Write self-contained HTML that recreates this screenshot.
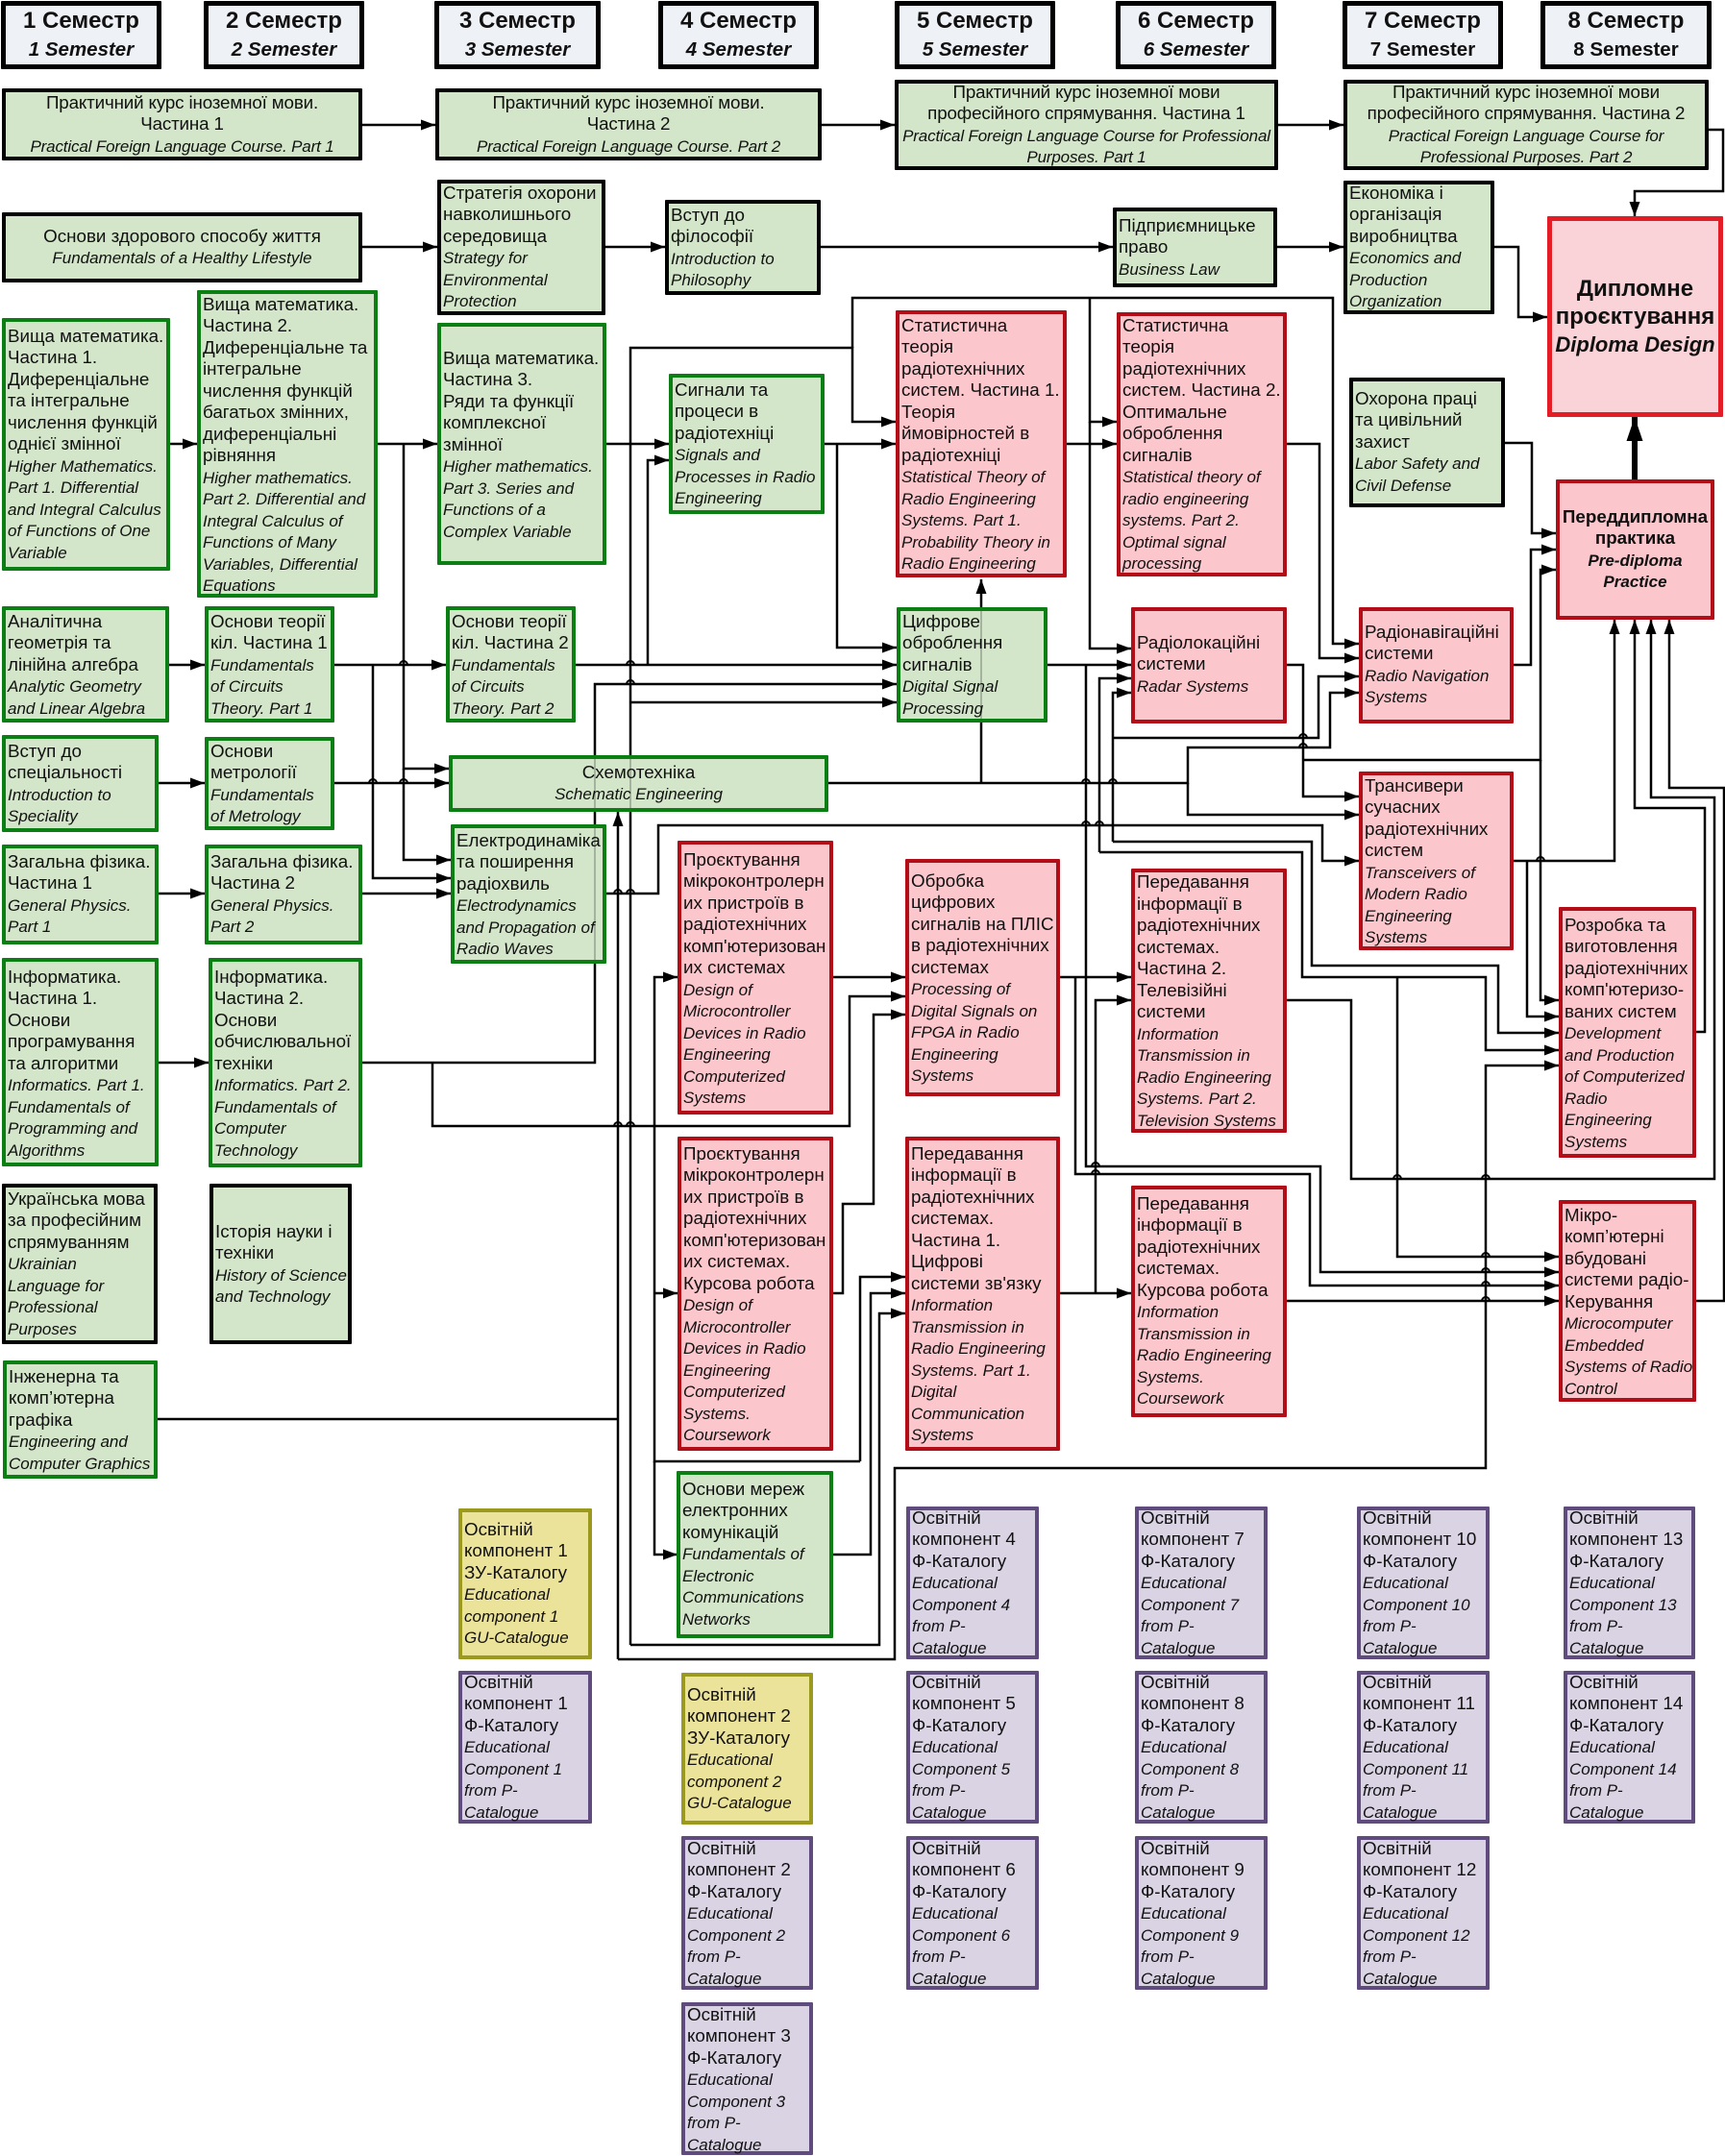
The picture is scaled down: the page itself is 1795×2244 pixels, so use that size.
<!DOCTYPE html>
<html lang="uk"><head><meta charset="utf-8"><title>Diagram</title>
<style>
html,body{margin:0;padding:0;background:#fff}
#w{position:relative;width:1795px;height:2244px;overflow:hidden;background:#fff;font-family:"Liberation Sans","DejaVu Sans",sans-serif;color:#111}
svg{position:absolute;left:0;top:0}
.b{position:absolute;box-sizing:border-box;border:4px solid #000;border-radius:1px}
.b p{position:absolute;left:2px;top:0;margin:.7px 0 0;font-size:18.8px;line-height:22.5px;white-space:nowrap}
.b p.c{left:0;right:0;text-align:center}
.b i{font-size:17px;line-height:1}
.n,.n i{letter-spacing:-.15px}
.g{border-color:#0b7f14;background:#d3e6c9}
.k{border-color:#000;background:#d3e6c9;border-width:4.5px}
.r{border-color:#b30d18;background:#fbc6cc;border-width:4.5px}
.d{border-color:#5f4b7d;background:#dad3e4}
.y{border-color:#9c9a1e;background:#ece39b}
.s{border-color:#000;background:#eef1f6;border-width:5px}
.s p{margin:0;font-size:24px;line-height:29px;font-weight:bold}
.s i{font-size:20.5px}
.s em{font-style:normal;font-size:20.5px}
.D{border-color:#e31c25;background:#fad3d8;border-width:5px}
.D p{margin:0;font-size:24px;line-height:29px;font-weight:bold}
.D i{font-size:22px}
.P{border-color:#b30d18;background:#fbc6cc;border-width:4.5px}
.P p{font-weight:bold}
</style></head><body><div id="w">
<svg width="1795" height="2244" viewBox="0 0 1795 2244">
<defs>
<marker id="a" markerUnits="userSpaceOnUse" markerWidth="16" markerHeight="12" refX="15" refY="6" orient="auto"><path d="M0 0.5L15 6L0 11.5z" fill="#000"/></marker>
<marker id="t" markerUnits="userSpaceOnUse" markerWidth="26" markerHeight="18" refX="25" refY="9" orient="auto"><path d="M0 0.5L25 9L0 17.5z" fill="#000"/></marker>
</defs>
<g fill="none" stroke="#000" stroke-width="2.5" marker-end="url(#a)">
<path d="M377 130H453"/><path d="M855 130H931"/><path d="M1330 130H1398"/><path d="M1778 135H1793V199H1701V225"/>
<path d="M377 257H455"/><path d="M630 257H692"/><path d="M854 257H1158"/><path d="M1329 257H1398"/><path d="M1555 257H1580V330H1610"/>
<path d="M1566 461H1594V555H1619"/>
<path d="M177 462H205"/><path d="M393 462H455"/><path d="M420 462V800H467"/><path d="M420 800V895H469"/><path d="M631 462H696"/><path d="M674 692V479H696"/><path d="M858 462H932"/><path d="M871 462V674H933"/>
<path d="M656 1712V362H887V439H932"/><path d="M887 362V310H1387V670H1414"/><path d="M1134 310V439H1162"/><path d="M1134 439V675H1177"/><path d="M1110 462H1162"/><path d="M1339 462H1373V685H1414"/>
<path d="M656 1712H915V1367H942"/><path d="M656 731H933"/>
<path d="M348 692H464"/><path d="M388 692V914H469"/><path d="M599 692H933"/>
<path d="M165 815H213"/><path d="M176 692H213"/><path d="M348 815H467"/><path d="M377 930H469"/><path d="M165 930H213"/><path d="M165 1106H217"/>
<path d="M377 1106H619V712H933"/><path d="M450 1106V1172H884V1037H942"/>
<path d="M631 930H685V859H1376V896H1414"/>
<path d="M862 815H1236V778H1384V721H1414"/><path d="M1236 815V848H1414"/><path d="M1021 815V603"/>
<path d="M1090 692H1177"/><path d="M1130 692V1214H1374V1324H1622"/>
<path d="M1103 1017H1177"/><path d="M1119 1017V1222H1363V1338H1622"/>
<path d="M1144 887V706H1177"/><path d="M1144 887H1355V1017H1546V1093H1622"/><path d="M1454 1017V1308H1622"/>
<path d="M1158 876V721H1177"/><path d="M1158 876H1365V1005H1559V1075H1622"/><path d="M1158 768H1372V704H1414"/>
<path d="M1339 692H1356V829H1414"/><path d="M1356 791H1603V593H1619"/><path d="M1603 791V1041H1622"/>
<path d="M1575 692H1593V572H1619"/>
<path d="M1575 896H1680V645"/><path d="M1589 896V1058H1622"/>
<path d="M1765 1074H1774V841H1701V645"/><path d="M1339 1041H1406V1227H1784V830H1718V645"/><path d="M1765 1354H1794V820H1737V645"/>
<path d="M1339 1354H1622"/>
<path d="M1103 1346H1177"/><path d="M1140 1346V1041H1177"/>
<path d="M867 1017H942"/>
<path d="M895 1521H681V1017H705"/><path d="M681 1346H705"/><path d="M681 1521V1618H705"/><path d="M895 1521V1329H942"/>
<path d="M866 1618H906V1346H942"/>
<path d="M867 1346H877V1253H909V1056H942"/>
<path d="M643 1727V845"/><path d="M643 1727H931V1528H1546V1109H1622"/>
</g>
<path d="M164 1477H643" fill="none" stroke="#000" stroke-width="2.5"/>
<path d="M1701 499V434" fill="none" stroke="#000" stroke-width="6" marker-end="url(#t)"/>
<g fill="none" stroke="#000" stroke-width="2">
<path d="M416 692a4 4 0 0 1 8 0M652 692a4 4 0 0 1 8 0M652 712a4 4 0 0 1 8 0M384 815a4 4 0 0 1 8 0M416 815a4 4 0 0 1 8 0M1126 815a4 4 0 0 1 8 0M1154 815a4 4 0 0 1 8 0M1126 859a4 4 0 0 1 8 0M1140 859a4 4 0 0 1 8 0M639 930a4 4 0 0 1 8 0M652 930a4 4 0 0 1 8 0M639 1172a4 4 0 0 1 8 0M652 1172a4 4 0 0 1 8 0M1352 768a4 4 0 0 1 8 0M1352 778a4 4 0 0 1 8 0M1599 896a4 4 0 0 1 8 0M1136 1214a4 4 0 0 1 8 0M1136 1222a4 4 0 0 1 8 0M1450 1227a4 4 0 0 1 8 0M1542 1227a4 4 0 0 1 8 0M1542 1308a4 4 0 0 1 8 0M1542 1324a4 4 0 0 1 8 0M1542 1338a4 4 0 0 1 8 0M1542 1354a4 4 0 0 1 8 0"/>
</g>
</svg>

<div class="b s" style="left:1px;top:1px;width:167px;height:71px"><p class="c" style="top:1px">1 Семестр<br><i>1 Semester</i></p></div>
<div class="b s" style="left:212px;top:1px;width:167px;height:71px"><p class="c" style="top:1px">2 Семестр<br><i>2 Semester</i></p></div>
<div class="b s" style="left:452px;top:1px;width:173px;height:71px"><p class="c" style="top:1px">3 Семестр<br><i>3 Semester</i></p></div>
<div class="b s" style="left:685px;top:1px;width:167px;height:71px"><p class="c" style="top:1px">4 Семестр<br><i>4 Semester</i></p></div>
<div class="b s" style="left:931px;top:1px;width:167px;height:71px"><p class="c" style="top:1px">5 Семестр<br><i>5 Semester</i></p></div>
<div class="b s" style="left:1161px;top:1px;width:167px;height:71px"><p class="c" style="top:1px">6 Семестр<br><i>6 Semester</i></p></div>
<div class="b s" style="left:1397px;top:1px;width:167px;height:71px"><p class="c" style="top:1px">7 Семестр<br><em>7 Semester</em></p></div>
<div class="b s" style="left:1603px;top:1px;width:178px;height:71px"><p class="c" style="top:1px">8 Семестр<br><em>8 Semester</em></p></div>

<div class="b k" style="left:2px;top:92px;width:375px;height:75px"><p class="c n" style="top:-1px">Практичний курс іноземної мови.<br>Частина 1<br><i>Practical Foreign Language Course. Part 1</i></p></div>
<div class="b k" style="left:453px;top:92px;width:402px;height:75px"><p class="c n" style="top:-1px">Практичний курс іноземної мови.<br>Частина 2<br><i>Practical Foreign Language Course. Part 2</i></p></div>
<div class="b k" style="left:931px;top:83px;width:399px;height:94px"><p class="c n" style="top:-3px">Практичний курс іноземної мови<br>професійного спрямування. Частина 1<br><i>Practical Foreign Language Course for Professional<br>Purposes. Part 1</i></p></div>
<div class="b k" style="left:1398px;top:83px;width:380px;height:94px"><p class="c n" style="top:-3px">Практичний курс іноземної мови<br>професійного спрямування. Частина 2<br><i>Practical Foreign Language Course for<br>Professional Purposes. Part 2</i></p></div>

<div class="b k" style="left:2px;top:221px;width:375px;height:73px"><p class="c" style="top:9px">Основи здорового способу життя<br><i>Fundamentals of a Healthy Lifestyle</i></p></div>
<div class="b k" style="left:455px;top:187px;width:175px;height:141px"><p style="top:-2px">Стратегія охорони<br>навколишнього<br>середовища<br><i>Strategy for<br>Environmental<br>Protection</i></p></div>
<div class="b k" style="left:692px;top:208px;width:162px;height:99px"><p style="top:0">Вступ до<br>філософії<br><i>Introduction to<br>Philosophy</i></p></div>
<div class="b k" style="left:1158px;top:216px;width:171px;height:83px"><p style="top:3px">Підприємницьке<br>право<br><i>Business Law</i></p></div>
<div class="b k" style="left:1398px;top:188px;width:157px;height:139px"><p style="top:-3px">Економіка і<br>організація<br>виробництва<br><i>Economics and<br>Production<br>Organization</i></p></div>
<div class="b D" style="left:1610px;top:225px;width:183px;height:209px"><p class="c" style="top:56px">Дипломне<br>проєктування<br><i>Diploma Design</i></p></div>
<div class="b k" style="left:1404px;top:393px;width:162px;height:135px"><p style="top:6px">Охорона праці<br>та цивільний<br>захист<br><i>Labor Safety and<br>Civil Defense</i></p></div>
<div class="b P" style="left:1619px;top:499px;width:165px;height:146px"><p class="c" style="top:23px">Переддипломна<br>практика<br><i>Pre-diploma<br>Practice</i></p></div>

<div class="b g" style="left:2px;top:331px;width:175px;height:263px"><p style="top:3px">Вища математика.<br>Частина 1.<br>Диференціальне<br>та інтегральне<br>числення функцій<br>однієї змінної<br><i>Higher Mathematics.<br>Part 1. Differential<br>and Integral Calculus<br>of Functions of One<br>Variable</i></p></div>
<div class="b g" style="left:205px;top:302px;width:188px;height:320px"><p style="top:-1px">Вища математика.<br>Частина 2.<br>Диференціальне та<br>інтегральне<br>числення функцій<br>багатьох змінних,<br>диференціальні<br>рівняння<br><i>Higher mathematics.<br>Part 2. Differential and<br>Integral Calculus of<br>Functions of Many<br>Variables, Differential<br>Equations</i></p></div>
<div class="b g" style="left:455px;top:336px;width:176px;height:252px"><p style="top:21px">Вища математика.<br>Частина 3.<br>Ряди та функції<br>комплексної<br>змінної<br><i>Higher mathematics.<br>Part 3. Series and<br>Functions of a<br>Complex Variable</i></p></div>
<div class="b g" style="left:696px;top:389px;width:162px;height:146px"><p style="top:1px">Сигнали та<br>процеси в<br>радіотехніці<br><i>Signals and<br>Processes in Radio<br>Engineering</i></p></div>
<div class="b r" style="left:932px;top:323px;width:178px;height:278px"><p style="top:0">Статистична<br>теорія<br>радіотехнічних<br>систем. Частина 1.<br>Теорія<br>ймовірностей в<br>радіотехніці<br><i>Statistical Theory of<br>Radio Engineering<br>Systems. Part 1.<br>Probability Theory in<br>Radio Engineering</i></p></div>
<div class="b r" style="left:1162px;top:325px;width:177px;height:275px"><p style="top:-2px">Статистична<br>теорія<br>радіотехнічних<br>систем. Частина 2.<br>Оптимальне<br>оброблення<br>сигналів<br><i>Statistical theory of<br>radio engineering<br>systems. Part 2.<br>Optimal signal<br>processing</i></p></div>

<div class="b g" style="left:2px;top:631px;width:174px;height:121px"><p style="top:0">Аналітична<br>геометрія та<br>лінійна алгебра<br><i>Analytic Geometry<br>and Linear Algebra</i></p></div>
<div class="b g" style="left:213px;top:631px;width:135px;height:121px"><p style="top:0">Основи теорії<br>кіл. Частина 1<br><i>Fundamentals<br>of Circuits<br>Theory. Part 1</i></p></div>
<div class="b g" style="left:464px;top:631px;width:135px;height:121px"><p style="top:0">Основи теорії<br>кіл. Частина 2<br><i>Fundamentals<br>of Circuits<br>Theory. Part 2</i></p></div>
<div class="b g" style="left:933px;top:632px;width:157px;height:120px"><p style="top:-1px">Цифрове<br>оброблення<br>сигналів<br><i>Digital Signal<br>Processing</i></p></div>
<div class="b r" style="left:1177px;top:632px;width:162px;height:121px"><p style="top:21px">Радіолокаційні<br>системи<br><i>Radar Systems</i></p></div>
<div class="b r" style="left:1414px;top:632px;width:161px;height:121px"><p style="top:10px">Радіонавігаційні<br>системи<br><i>Radio Navigation<br>Systems</i></p></div>

<div class="b g" style="left:2px;top:765px;width:163px;height:101px"><p style="top:1px">Вступ до<br>спеціальності<br><i>Introduction to<br>Speciality</i></p></div>
<div class="b g" style="left:213px;top:767px;width:135px;height:97px"><p style="top:-1px">Основи<br>метрології<br><i>Fundamentals<br>of Metrology</i></p></div>
<div class="b g" style="left:467px;top:786px;width:395px;height:59px"><p class="c" style="top:2px">Схемотехніка<br><i>Schematic Engineering</i></p></div>
<div class="b g" style="left:2px;top:879px;width:163px;height:104px"><p style="top:2px">Загальна фізика.<br>Частина 1<br><i>General Physics.<br>Part 1</i></p></div>
<div class="b g" style="left:213px;top:879px;width:164px;height:104px"><p style="top:2px">Загальна фізика.<br>Частина 2<br><i>General Physics.<br>Part 2</i></p></div>
<div class="b g" style="left:469px;top:858px;width:162px;height:145px"><p style="top:1px">Електродинаміка<br>та поширення<br>радіохвиль<br><i>Electrodynamics<br>and Propagation of<br>Radio Waves</i></p></div>
<div class="b g" style="left:2px;top:997px;width:163px;height:217px"><p style="top:4px">Інформатика.<br>Частина 1.<br>Основи<br>програмування<br>та алгоритми<br><i>Informatics. Part 1.<br>Fundamentals of<br>Programming and<br>Algorithms</i></p></div>
<div class="b g" style="left:217px;top:997px;width:160px;height:218px"><p style="top:4px">Інформатика.<br>Частина 2.<br>Основи<br>обчислювальної<br>техніки<br><i>Informatics. Part 2.<br>Fundamentals of<br>Computer<br>Technology</i></p></div>
<div class="b k" style="left:2px;top:1232px;width:162px;height:167px"><p style="top:0">Українська мова<br>за професійним<br>спрямуванням<br><i>Ukrainian<br>Language for<br>Professional<br>Purposes</i></p></div>
<div class="b k" style="left:218px;top:1232px;width:148px;height:167px"><p style="top:34px">Історія науки і<br>техніки<br><i>History of Science<br>and Technology</i></p></div>
<div class="b g" style="left:3px;top:1416px;width:161px;height:123px"><p style="top:1px">Інженерна та<br>комп’ютерна<br>графіка<br><i>Engineering and<br>Computer Graphics</i></p></div>

<div class="b r" style="left:705px;top:875px;width:162px;height:285px"><p style="top:4px">Проєктування<br>мікроконтролерн<br>их пристроїв в<br>радіотехнічних<br>комп'ютеризован<br>их системах<br><i>Design of<br>Microcontroller<br>Devices in Radio<br>Engineering<br>Computerized<br>Systems</i></p></div>
<div class="b r" style="left:705px;top:1183px;width:162px;height:327px"><p style="top:2px">Проєктування<br>мікроконтролерн<br>их пристроїв в<br>радіотехнічних<br>комп'ютеризован<br>их системах.<br>Курсова робота<br><i>Design of<br>Microcontroller<br>Devices in Radio<br>Engineering<br>Computerized<br>Systems.<br>Coursework</i></p></div>
<div class="b r" style="left:942px;top:894px;width:161px;height:247px"><p style="top:7px">Обробка<br>цифрових<br>сигналів на ПЛІС<br>в радіотехнічних<br>системах<br><i>Processing of<br>Digital Signals on<br>FPGA in Radio<br>Engineering<br>Systems</i></p></div>
<div class="b r" style="left:1177px;top:904px;width:162px;height:275px"><p style="top:-1.5px">Передавання<br>інформації в<br>радіотехнічних<br>системах.<br>Частина 2.<br>Телевізійні<br>системи<br><i>Information<br>Transmission in<br>Radio Engineering<br>Systems. Part 2.<br>Television Systems</i></p></div>
<div class="b r" style="left:1414px;top:803px;width:161px;height:186px"><p style="top:-1px">Трансивери<br>сучасних<br>радіотехнічних<br>систем<br><i>Transceivers of<br>Modern Radio<br>Engineering<br>Systems</i></p></div>
<div class="b r" style="left:1622px;top:944px;width:143px;height:261px"><p style="top:3px">Розробка та<br>виготовлення<br>радіотехнічних<br>комп'ютеризо-<br>ваних систем<br><i>Development<br>and Production<br>of Computerized<br>Radio<br>Engineering<br>Systems</i></p></div>
<div class="b r" style="left:1622px;top:1249px;width:143px;height:210px"><p style="top:0">Мікро-<br>комп’ютерні<br>вбудовані<br>системи радіо-<br>Керування<br><i>Microcomputer<br>Embedded<br>Systems of Radio<br>Control</i></p></div>
<div class="b r" style="left:942px;top:1183px;width:161px;height:327px"><p style="top:2px">Передавання<br>інформації в<br>радіотехнічних<br>системах.<br>Частина 1.<br>Цифрові<br>системи зв'язку<br><i>Information<br>Transmission in<br>Radio Engineering<br>Systems. Part 1.<br>Digital<br>Communication<br>Systems</i></p></div>
<div class="b r" style="left:1177px;top:1234px;width:162px;height:241px"><p style="top:3px">Передавання<br>інформації в<br>радіотехнічних<br>системах.<br>Курсова робота<br><i>Information<br>Transmission in<br>Radio Engineering<br>Systems.<br>Coursework</i></p></div>
<div class="b g" style="left:704px;top:1531px;width:163px;height:174px"><p style="top:3px">Основи мереж<br>електронних<br>комунікацій<br><i>Fundamentals of<br>Electronic<br>Communications<br>Networks</i></p></div>

<div class="b y" style="left:477px;top:1570px;width:139px;height:157px"><p style="top:6px">Освітній<br>компонент 1<br>ЗУ-Каталогу<br><i>Educational<br>component 1<br>GU-Catalogue</i></p></div>
<div class="b d" style="left:477px;top:1739px;width:139px;height:159px"><p style="top:-4px">Освітній<br>компонент 1<br>Ф-Каталогу<br><i>Educational<br>Component 1<br>from P-<br>Catalogue</i></p></div>
<div class="b y" style="left:709px;top:1741px;width:137px;height:158px"><p style="top:7px">Освітній<br>компонент 2<br>ЗУ-Каталогу<br><i>Educational<br>component 2<br>GU-Catalogue</i></p></div>
<div class="b d" style="left:709px;top:1911px;width:137px;height:160px"><p style="top:-3px">Освітній<br>компонент 2<br>Ф-Каталогу<br><i>Educational<br>Component 2<br>from P-<br>Catalogue</i></p></div>
<div class="b d" style="left:709px;top:2084px;width:137px;height:159px"><p style="top:-3px">Освітній<br>компонент 3<br>Ф-Каталогу<br><i>Educational<br>Component 3<br>from P-<br>Catalogue</i></p></div>

<div class="b d" style="left:943px;top:1568px;width:138px;height:159px"><p style="top:-4px">Освітній<br>компонент 4<br>Ф-Каталогу<br><i>Educational<br>Component 4<br>from P-<br>Catalogue</i></p></div>
<div class="b d" style="left:943px;top:1739px;width:138px;height:159px"><p style="top:-4px">Освітній<br>компонент 5<br>Ф-Каталогу<br><i>Educational<br>Component 5<br>from P-<br>Catalogue</i></p></div>
<div class="b d" style="left:943px;top:1911px;width:138px;height:160px"><p style="top:-3px">Освітній<br>компонент 6<br>Ф-Каталогу<br><i>Educational<br>Component 6<br>from P-<br>Catalogue</i></p></div>
<div class="b d" style="left:1181px;top:1568px;width:138px;height:159px"><p style="top:-4px">Освітній<br>компонент 7<br>Ф-Каталогу<br><i>Educational<br>Component 7<br>from P-<br>Catalogue</i></p></div>
<div class="b d" style="left:1181px;top:1739px;width:138px;height:159px"><p style="top:-4px">Освітній<br>компонент 8<br>Ф-Каталогу<br><i>Educational<br>Component 8<br>from P-<br>Catalogue</i></p></div>
<div class="b d" style="left:1181px;top:1911px;width:138px;height:160px"><p style="top:-3px">Освітній<br>компонент 9<br>Ф-Каталогу<br><i>Educational<br>Component 9<br>from P-<br>Catalogue</i></p></div>
<div class="b d" style="left:1412px;top:1568px;width:138px;height:159px"><p style="top:-4px">Освітній<br>компонент 10<br>Ф-Каталогу<br><i>Educational<br>Component 10<br>from P-<br>Catalogue</i></p></div>
<div class="b d" style="left:1412px;top:1739px;width:138px;height:159px"><p style="top:-4px">Освітній<br>компонент 11<br>Ф-Каталогу<br><i>Educational<br>Component 11<br>from P-<br>Catalogue</i></p></div>
<div class="b d" style="left:1412px;top:1911px;width:138px;height:160px"><p style="top:-3px">Освітній<br>компонент 12<br>Ф-Каталогу<br><i>Educational<br>Component 12<br>from P-<br>Catalogue</i></p></div>
<div class="b d" style="left:1627px;top:1568px;width:137px;height:159px"><p style="top:-4px">Освітній<br>компонент 13<br>Ф-Каталогу<br><i>Educational<br>Component 13<br>from P-<br>Catalogue</i></p></div>
<div class="b d" style="left:1627px;top:1739px;width:137px;height:159px"><p style="top:-4px">Освітній<br>компонент 14<br>Ф-Каталогу<br><i>Educational<br>Component 14<br>from P-<br>Catalogue</i></p></div>

<svg width="1795" height="2244" viewBox="0 0 1795 2244" style="pointer-events:none">
<path d="M619 790V841M656 790V841M619 862V999M1021 636V748" stroke="#000" stroke-width="2" opacity=".22" fill="none"/>
</svg>
</div></body></html>
